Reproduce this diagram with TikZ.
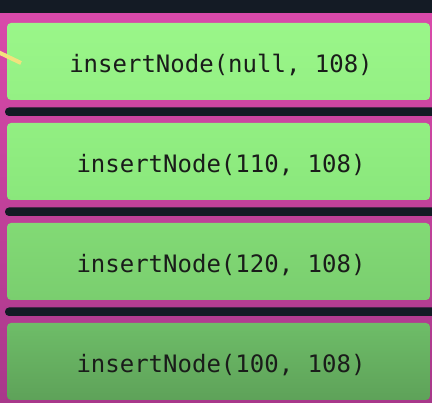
\documentclass[tikz,border=0pt]{standalone}
\usepackage{fontspec}
\newfontfamily\codefont{DejaVu Sans Mono}
\definecolor{bgdark}{HTML}{141B25}
\definecolor{pinkTop}{HTML}{D94AAA}
\definecolor{pinkBot}{HTML}{A8388A}
\definecolor{gA1}{HTML}{9AF689}
\definecolor{gA2}{HTML}{94F084}
\definecolor{gB1}{HTML}{92EF82}
\definecolor{gB2}{HTML}{8AE77C}
\definecolor{gC1}{HTML}{82DA75}
\definecolor{gC2}{HTML}{7ACE6F}
\definecolor{gD1}{HTML}{6EBD68}
\definecolor{gD2}{HTML}{5EA259}
\definecolor{txt}{HTML}{1A1C1A}
\definecolor{hl}{HTML}{F2E27E}
\newcommand{\codetext}[1]{\raisebox{-11.2pt}[0pt][0pt]{\hspace{5pt}#1}}
\tikzset{
  callbox/.style={rectangle, rounded corners=4pt, minimum width=423pt, minimum height=77pt,
    inner sep=0pt, text=txt, font=\codefont\fontsize{24}{26}\selectfont},
  gapband/.style={fill=bgdark, rounded corners=4pt},
}
\begin{document}
\begin{tikzpicture}[x=1pt,y=-1pt]
\useasboundingbox (0,0) rectangle (432,403);
\fill[bgdark] (0,0) rectangle (432,403);
% pink frame column
\shade[top color=pinkTop, bottom color=pinkBot] (0,14) rectangle (432,403);
% dark gaps between frames
\fill[gapband] (5,107.5) rectangle (440,116);
\fill[gapband] (5,207.5) rectangle (440,216);
\fill[gapband] (5,307.5) rectangle (440,316);
% call boxes
\node[callbox, top color=gA1, bottom color=gA2] (c1) at (218.5,61.5) {\codetext{insertNode(null, 108)}};
\node[callbox, top color=gB1, bottom color=gB2] (c2) at (218.5,161.5) {\codetext{insertNode(110, 108)}};
\node[callbox, top color=gC1, bottom color=gC2] (c3) at (218.5,261.5) {\codetext{insertNode(120, 108)}};
\node[callbox, top color=gD1, bottom color=gD2] (c4) at (218.5,361.5) {\codetext{insertNode(100, 108)}};
% yellow pointer fragment
\coordinate (p0) at (-2,52);
\coordinate (p1) at (21,63);
\draw[hl, line width=4pt] (p0) -- (p1);
\end{tikzpicture}
\end{document}
